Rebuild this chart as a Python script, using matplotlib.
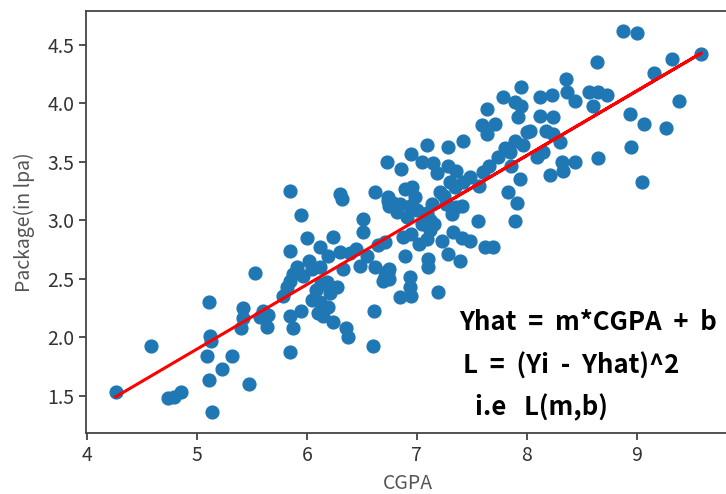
import numpy as np
import matplotlib
matplotlib.use('Agg')
import matplotlib.pyplot as plt

plt.rcParams['font.family'] = ['Noto Sans CJK KR', 'DejaVu Sans']

# values
cgpa = [4.26, 4.58, 4.74, 4.79, 4.85, 5.11, 5.12, 5.13, 5.09, 5.32,
        5.23, 5.11, 5.14, 5.47, 5.42, 5.42, 5.40, 5.53, 5.57, 5.65,
        5.64, 5.60, 5.85, 5.85, 5.87, 5.95, 5.78, 5.82, 5.85, 5.87,
        5.91, 5.96, 5.85, 5.95, 5.85, 6.00, 6.05, 6.12, 6.12, 6.19,
        6.24, 6.30, 6.39, 6.33, 6.18, 6.27, 6.21, 6.05, 6.12, 6.19,
        6.10, 6.15, 6.24, 6.36, 6.37, 6.30, 6.32, 6.13, 6.08, 6.48,
        6.55, 6.62, 6.65, 6.69, 6.74, 6.51, 6.51, 6.62, 6.73, 6.74,
        6.61, 6.60, 6.71, 6.75, 6.75, 6.71, 6.74, 6.78, 6.75, 6.86,
        6.95, 6.89, 6.96, 6.85, 6.94, 7.00, 6.82, 6.91, 6.87, 6.95,
        6.89, 6.94, 6.94, 6.85, 6.95, 6.72, 7.05, 7.15, 7.09, 7.14,
        7.09, 7.12, 7.16, 7.09, 7.10, 7.10, 7.19, 7.05, 7.12, 7.28,
        7.28, 7.36, 7.30, 7.35, 7.21, 7.25, 7.27, 7.36, 7.32, 7.41,
        7.42, 7.48, 7.42, 7.57, 7.23, 7.33, 7.41, 7.48, 7.28, 7.39,
        7.56, 7.62, 7.69, 7.59, 7.64, 7.60, 7.66, 7.64, 7.71, 7.74,
        7.80, 7.85, 7.86, 7.78, 7.89, 7.95, 7.92, 7.95, 7.89, 8.00,
        7.94, 7.83, 7.91, 7.89, 7.97, 8.12, 8.23, 8.12, 8.24, 8.03,
        8.18, 8.24, 8.30, 8.09, 8.15, 8.32, 8.44, 8.33, 8.21, 8.36,
        8.37, 8.44, 8.57, 8.65, 8.73, 8.60, 8.65, 8.64, 8.88, 9.00,
        9.59, 9.32, 9.16, 9.39, 8.94, 9.07, 9.27, 8.95, 9.05, 6.02,
        6.45, 7.02, 6.98, 7.18]
package = [1.53, 1.92, 1.48, 1.49, 1.53, 2.30, 2.01, 1.97, 1.84, 1.84,
           1.73, 1.63, 1.36, 1.60, 2.25, 2.16, 2.08, 2.55, 2.17, 2.19,
           2.09, 2.22, 1.87, 2.18, 2.08, 2.22, 2.35, 2.43, 2.48, 2.54,
           2.60, 2.52, 2.74, 3.04, 3.25, 2.85, 2.58, 2.60, 2.77, 2.69,
           2.86, 2.73, 2.72, 2.58, 2.47, 2.43, 2.38, 2.32, 2.30, 2.26,
           2.21, 2.18, 2.13, 2.08, 2.00, 3.22, 3.18, 2.45, 2.40, 2.61,
           2.69, 2.60, 2.79, 2.48, 2.55, 3.01, 2.90, 3.24, 3.50, 3.16,
           2.22, 1.92, 2.52, 2.58, 2.50, 2.81, 3.20, 3.15, 3.12, 3.44,
           3.57, 3.27, 3.28, 3.14, 3.12, 3.09, 3.07, 3.03, 2.86, 2.88,
           2.69, 2.51, 2.43, 2.34, 2.35, 2.56, 3.50, 3.49, 3.64, 3.14,
           3.06, 3.00, 2.97, 2.84, 2.67, 2.60, 2.39, 2.97, 2.92, 3.63,
           3.46, 3.42, 3.33, 3.28, 3.24, 3.21, 3.14, 3.11, 3.05, 3.12,
           3.68, 3.37, 3.33, 3.29, 2.82, 2.90, 2.85, 2.82, 2.71, 2.65,
           2.99, 2.77, 2.77, 3.81, 3.74, 3.41, 3.46, 3.95, 3.82, 3.54,
           3.62, 3.58, 3.46, 4.05, 4.01, 3.98, 3.88, 4.14, 3.68, 3.75,
           3.35, 3.24, 3.15, 2.99, 3.64, 4.05, 4.07, 3.89, 3.88, 3.76,
           3.76, 3.74, 3.67, 3.54, 3.58, 3.50, 3.50, 3.42, 3.39, 4.21,
           4.10, 4.02, 4.10, 4.10, 4.07, 3.98, 3.53, 4.35, 4.62, 4.60,
           4.42, 4.38, 4.26, 4.02, 3.91, 3.82, 3.79, 3.63, 3.33, 2.65,
           2.75, 2.80, 3.20, 3.40]

# fitted line coefficients as they appear in the picture
slope = 0.5516
intercept = -0.86

xticks = [4, 5, 6, 7, 8, 9]
yticks = [1.5, 2.0, 2.5, 3.0, 3.5, 4.0, 4.5]
notes = ['Yhat  =  m*CGPA  +  b', 'L  =  (Yi  -  Yhat)^2', 'i.e   L(m,b)']

x = np.array(cgpa)
y = np.array(package)

fig = plt.figure(figsize=(7.26, 4.94), dpi=100)
ax = fig.add_axes([0.1185, 0.1235, 0.887, 0.8545])

ax.scatter(x, y, s=85, color='#1f77b4', zorder=2)
ax.plot(x, slope * x + intercept, color='red', lw=2.2, zorder=3)

ax.set_xlim(3.99, 9.85)
ax.set_ylim(1.18, 4.79)
ax.set_xticks(xticks)
ax.set_yticks(yticks)
ax.tick_params(labelsize=14, colors='#333333', length=5, width=1.2)
for s in ax.spines.values():
    s.set_color('#444444')
    s.set_linewidth(1.3)

ax.set_xlabel('CGPA', fontsize=14, color='#555555', labelpad=5)
ax.set_ylabel('Package(in lpa)', fontsize=14, color='#555555', labelpad=9)

# formula notes pasted in lower right
fig.text(459 / 726, 1 - 322 / 494, notes[0], fontsize=18.5, fontweight='bold',
         va='center', ha='left', color='black')
fig.text(463 / 726, 1 - 366 / 494, notes[1], fontsize=18.5, fontweight='bold',
         va='center', ha='left', color='black')
fig.text(475 / 726, 1 - 408 / 494, notes[2], fontsize=18.5, fontweight='bold',
         va='center', ha='left', color='black')

fig.savefig('out.png', dpi=100)
